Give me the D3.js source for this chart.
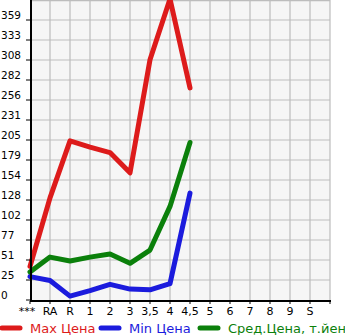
<!DOCTYPE html>
<html>
<head>
<meta charset="utf-8">
<script src="https://cdn.jsdelivr.net/npm/d3@7"></script>
<style>
  body { margin: 0; background: #fff; }
  svg { display: block; font-family: "DejaVu Sans", Verdana, sans-serif; }
</style>
</head>
<body>
<div id="chart"></div>
<script>
const categories = ["***", "RA", "R", "1", "2", "3", "3,5", "4", "4,5", "5", "6", "7", "8", "9", "S"];
const maxPrice = [43, 131, 204, 196, 189, 163, 308, 386, 272, null, null, null, null, null, null];
const minPrice = [30, 25, 5, 12, 20, 14, 13, 21, 137, null, null, null, null, null, null];
const avgPrice = [36, 55, 50, 55, 59, 47, 64, 120, 202, null, null, null, null, null, null];
const yTickLabels = ["0", "25", "51", "77", "102", "128", "154", "179", "205", "231", "256", "282", "308", "333", "359"];
const seriesNames = ["Max Цена", "Min Цена", "Сред.Цена, т.йен"];
const seriesColors = ["#dd1b1b", "#1b1bdd", "#0b800b"];

const width = 345, height = 335;
const margin = {left: 30, top: 0, right: 15, bottom: 35};
const plotW = width - margin.left - margin.right,
      plotH = height - margin.top - margin.bottom;
const step = 359 / 14;

const x = d3.scaleLinear().domain([0, categories.length]).range([margin.left, margin.left + plotW]);
const y = d3.scaleLinear().domain([0, step * 15]).range([margin.top + plotH, margin.top]);

const svg = d3.select('#chart').append('svg')
  .attr('width', width)
  .attr('height', height);

// plot background
svg.append('rect')
  .attr('x', x(0)).attr('y', y(step * 15))
  .attr('width', x(categories.length) - x(0))
  .attr('height', y(0) - y(step * 15))
  .attr('fill', '#f6f6f6');

// grid
const grid = svg.append('g').attr('stroke', '#bdbdbd').attr('stroke-width', 1.2);
d3.range(1, categories.length + 1).forEach(i => {
  grid.append('line')
    .attr('x1', x(i)).attr('x2', x(i))
    .attr('y1', y(step * 15)).attr('y2', y(0));
});
d3.range(1, 16).forEach(i => {
  grid.append('line')
    .attr('x1', x(0)).attr('x2', x(categories.length))
    .attr('y1', y(step * i) + (i === 15 ? 0.6 : 0)).attr('y2', y(step * i) + (i === 15 ? 0.6 : 0));
});

// series
const series = [maxPrice, minPrice, avgPrice];
const line = d3.line()
  .defined(d => d != null)
  .x((d, i) => x(i))
  .y(d => y(d));

const clip = svg.append('clipPath').attr('id', 'clip')
  .append('rect')
  .attr('x', x(0) - 5).attr('y', y(step * 15))
  .attr('width', x(categories.length) - x(0) + 5)
  .attr('height', y(0) - y(step * 15) + 5);

svg.append('g').attr('clip-path', 'url(#clip)')
  .selectAll('path')
  .data(series)
  .enter()
  .append('path')
    .attr('d', d => line(d))
    .attr('fill', 'none')
    .attr('stroke', (d, i) => seriesColors[i])
    .attr('stroke-width', 5)
    .attr('stroke-linejoin', 'round')
    .attr('stroke-linecap', 'round');

// axes
const axes = svg.append('g').attr('stroke', '#000');
axes.append('line')
  .attr('x1', x(0) + 1).attr('x2', x(0) + 1)
  .attr('y1', y(step * 15)).attr('y2', y(0) + 1)
  .attr('stroke-width', 2);
axes.append('line')
  .attr('x1', x(0)).attr('x2', x(categories.length) + 1)
  .attr('y1', y(0) + 1).attr('y2', y(0) + 1)
  .attr('stroke-width', 2);

yTickLabels.forEach((t, i) => {
  const yy = y(step * i);
  axes.append('line')
    .attr('x1', x(0) - 4).attr('x2', x(0))
    .attr('y1', yy).attr('y2', yy)
    .attr('stroke-width', 1);
  svg.append('text')
    .attr('x', 1).attr('y', yy - 1)
    .attr('font-size', 10.5)
    .attr('fill', '#000')
    .text(t);
});

d3.range(0, categories.length + 1).forEach(i => {
  axes.append('line')
    .attr('x1', x(i)).attr('x2', x(i))
    .attr('y1', y(0) + 1).attr('y2', y(0) + 4)
    .attr('stroke-width', 1);
});

categories.forEach((c, i) => {
  svg.append('text')
    .attr('x', i === 0 ? x(i) - 3 : x(i))
    .attr('y', y(0) + 15)
    .attr('text-anchor', 'middle')
    .attr('font-size', 11)
    .attr('fill', '#000')
    .text(c);
});

// legend
const legendX = [0, 99, 198];
const legend = svg.append('g');
seriesNames.forEach((name, i) => {
  legend.append('line')
    .attr('x1', legendX[i] + 2).attr('x2', legendX[i] + 20)
    .attr('y1', 328).attr('y2', 328)
    .attr('stroke', seriesColors[i])
    .attr('stroke-width', 5)
    .attr('stroke-linecap', 'round');
  legend.append('text')
    .attr('x', legendX[i] + 30).attr('y', 333)
    .attr('font-size', 13)
    .attr('fill', seriesColors[i])
    .text(name);
});
</script>
</body>
</html>
